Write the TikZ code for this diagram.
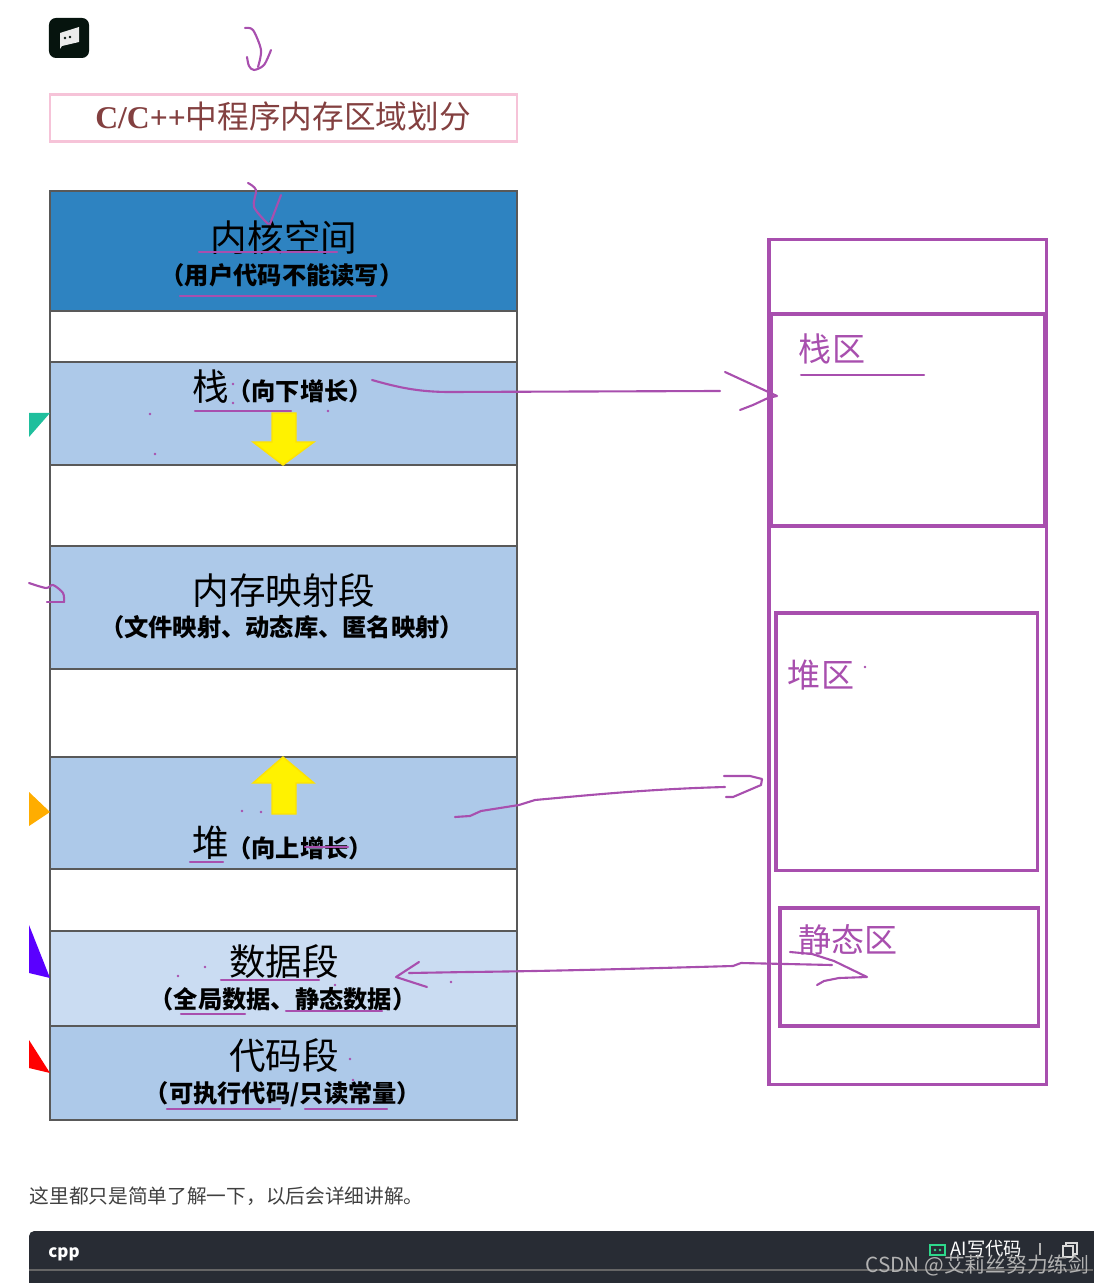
\documentclass[tikz,border=0pt]{standalone}
\usepackage{fontspec}
\newfontfamily\cjk{Noto Sans CJK SC}
\newfontfamily\latinserif{Liberation Serif}
\definecolor{ink}{HTML}{A84FAE}
\definecolor{kernelblue}{HTML}{2E83C1}
\definecolor{segblue}{HTML}{ADC9E9}
\definecolor{datablue}{HTML}{CADCF2}
\definecolor{barcolor}{HTML}{282C34}
\definecolor{logodark}{HTML}{06140E}
\definecolor{aigreen}{HTML}{2ED88B}
\definecolor{titlepink}{HTML}{F6C3D8}
\definecolor{markteal}{HTML}{1FBF9D}
\definecolor{markorange}{HTML}{FFAD00}
\definecolor{markblue}{HTML}{5A00FF}
\begin{document}
\begin{tikzpicture}[x=0.01cm,y=-0.01cm]
        \tikzstyle{seg}=[draw=black!65, line width=0.55pt, minimum width=4.67cm, inner sep=0pt]
        \tikzstyle{zone}=[draw=ink, line width=0.9pt, inner sep=0pt]
        \tikzstyle{bigname}=[inner sep=0pt, font=\cjk\fontsize{10.4}{12}\selectfont]
        \tikzstyle{smallname}=[inner sep=0pt, font=\cjk\bfseries\fontsize{6.9}{8}\selectfont]
        \tikzstyle{zonename}=[inner sep=0pt, text=ink, font=\cjk\fontsize{9.4}{11}\selectfont]
        \tikzstyle{inkline}=[draw=ink, line width=0.6pt, line cap=round, line join=round]
        \tikzstyle{growarrow}=[fill=yellow, draw=yellow!85!orange, line width=0.4pt]
        \useasboundingbox (0,0) rectangle (1093,1283);
        % logo and title
        \node[fill=logodark, rounded corners=2pt, minimum width=0.40cm, minimum height=0.40cm, inner sep=0pt] (logo) at (69,38) {};
        \fill[black!8] (60,33) -- (79,27) -- (79,42) -- (62,46) -- (60,49) -- cycle;
        \fill[logodark] (65,38) circle (0.4pt) (70,37) circle (0.4pt);
        \node[draw=titlepink, line width=0.6pt, minimum width=4.67cm, minimum height=0.47cm, inner sep=0pt] (titlebox) at (283.5,118) {};
        \node[inner sep=0pt, text=red!35!black!75, font=\cjk\fontsize{9}{10}\selectfont] (title) at (283,116) {{\latinserif\bfseries C/C++}中程序内存区域划分};
        % left column
        \node[seg, fill=kernelblue, minimum height=1.20cm] (kernel) at (283.5,251) {};
        \node[seg, minimum height=0.51cm] (gapa) at (283.5,336.5) {};
        \node[seg, fill=segblue, minimum height=1.03cm] (stack) at (283.5,413.5) {};
        \node[seg, minimum height=0.81cm] (gapb) at (283.5,505.5) {};
        \node[seg, fill=segblue, minimum height=1.23cm] (mmap) at (283.5,607.5) {};
        \node[seg, minimum height=0.88cm] (gapc) at (283.5,713) {};
        \node[seg, fill=segblue, minimum height=1.12cm] (heap) at (283.5,813) {};
        \node[seg, minimum height=0.62cm] (gapd) at (283.5,900) {};
        \node[seg, fill=datablue, minimum height=0.95cm] (data) at (283.5,978.5) {};
        \node[seg, fill=segblue, minimum height=0.94cm] (code) at (283.5,1073) {};
        \node[bigname] (kernelname) at (284,238) {内核空间};
        \node[smallname] (kernelnote) at (282,275) {（用户代码不能读写）};
        \node[bigname] (stackname) at (211,387) {栈};
        \node[smallname] (stacknote) at (300,391) {（向下增长）};
        \node[bigname] (mmapname) at (284,591) {内存映射段};
        \node[smallname] (mmapnote) at (282,627) {（文件映射、动态库、匿名映射）};
        \node[bigname] (heapname) at (211,843) {堆};
        \node[smallname] (heapnote) at (300,848) {（向上增长）};
        \node[bigname] (dataname) at (284,962) {数据段};
        \node[smallname] (datanote) at (283,999) {（全局数据、静态数据）};
        \node[bigname] (codename) at (284,1056) {代码段};
        \node[smallname] (codenote) at (283,1094) {（可执行代码/只读常量）};
        % yellow arrows
        \draw[growarrow] (272,413) -- (296,413) -- (296,442) -- (314,442) -- (283,465) -- (253,442) -- (272,442) -- cycle;
        \draw[growarrow] (283,757) -- (314,783) -- (296,783) -- (296,814) -- (272,814) -- (272,783) -- (253,783) -- cycle;
        % right column
        \node[zone, minimum width=2.77cm, minimum height=8.44cm] (outer) at (907.5,662) {};
        \node[zone, minimum width=2.73cm, minimum height=2.12cm] (stackzone) at (907.5,420) {};
        \node[zone, minimum width=2.61cm, minimum height=2.57cm] (heapzone) at (906.5,741.5) {};
        \node[zone, minimum width=2.58cm, minimum height=1.18cm] (staticzone) at (909,967) {};
        \node[zonename] (stacklabel) at (832,349) {栈区};
        \node[zonename] (heaplabel) at (821,675) {堆区};
        \node[zonename] (staticlabel) at (848,940) {静态区};
        % side marks
        \fill[markteal] (29,413) -- (50,413) -- (29,437) -- cycle;
        \fill[markorange] (29,792) -- (50,812) -- (29,826) -- cycle;
        \fill[markblue] (29,925) -- (50,978) -- (29,973) -- cycle;
        \fill[red] (29,1040) -- (50,1073) -- (29,1068) -- cycle;
        % connectors
        \coordinate (stackfrom) at (372,380);
        \coordinate (stackto) at (720,391);
        \coordinate (heapfrom) at (455,817);
        \coordinate (heapto) at (725,787);
        \coordinate (staticfrom) at (409,973);
        \coordinate (staticto) at (832,965);
        \draw[inkline] (stackfrom) .. controls (400,388) and (420,392) .. (450,392) -- (stackto);
        \draw[inkline] (725,372) -- (777,396) -- (768,398) -- (753,405) -- (740,410);
        \draw[inkline] (heapfrom) -- (470,816) -- (481,811) -- (519,805) -- (535,800) .. controls (590,795) and (650,789) .. (heapto);
        \draw[inkline] (724,776) -- (750,776) -- (762,779) -- (761,785) -- (733,797) -- (726,797);
        \draw[inkline] (staticfrom) -- (468,972) .. controls (560,971) and (660,968) .. (733,966) -- (741,963) -- (staticto);
        \draw[inkline] (419,962) -- (396,977) -- (427,987);
        \draw[inkline] (790,952) -- (812,954) -- (834,961) -- (867,977) -- (839,978) -- (824,981) -- (817,985);
        % pen marks
        \draw[inkline] plot[smooth] coordinates {(245,28) (253,30) (261,50) (258,67)};
        \draw[inkline] plot[smooth] coordinates {(247,57) (249,66) (254,70) (264,65) (271,50)};
        \draw[inkline] plot[smooth] coordinates {(248,183) (256,190) (254,207) (268,224)};
        \draw[inkline] (281,195) -- (270,224);
        \draw[inkline] plot[smooth] coordinates {(29,583) (46,588) (53,585) (63,593) (64,602)};
        \draw[inkline] (64,602) -- (47,602);
        \foreach \ax/\bx/\uy in {199/337/252, 180/376/296, 195/291/411, 190/223/862, 305/348/847, 221/319/980, 181/245/1014, 286/382/1011, 167/280/1109, 305/387/1109, 801/924/375}
            \draw[inkline] (\ax,\uy) -- (\bx,\uy);
        \foreach \dx/\dy in {150/414, 155/454, 233/384, 233/403, 328/411, 242/811, 261/812, 178/976, 205/967, 451/982, 335/985, 350/1059, 353/1080, 865/667}
            \fill[ink] (\dx,\dy) circle (0.4pt);
        % text and code bar below
        \node[anchor=west, inner sep=0pt, text=black!75, font=\cjk\fontsize{5.6}{7}\selectfont] (remark) at (29,1196) {这里都只是简单了解一下，以后会详细讲解。};
        \fill[barcolor, rounded corners=1.5pt] (29,1290) -- (29,1231) -- (1100,1231) -- (1100,1290) -- cycle;
        \draw[black!60, line width=0.3pt] (29,1270) -- (1093,1270);
        \node[text=white, inner sep=0pt, font=\cjk\bfseries\fontsize{4.8}{6}\selectfont] (lang) at (64,1254) {cpp};
        \draw[aigreen, fill=barcolor, line width=0.7pt] (930,1245) rectangle (945,1255);
        \fill[aigreen] (935,1250) circle (0.4pt) (940,1250) circle (0.4pt);
        \node[anchor=west, text=white, inner sep=0pt, font=\cjk\fontsize{5.2}{7}\selectfont] (aicode) at (950,1249) {AI写代码};
        \draw[black!30, line width=0.3pt] (1040,1243) -- (1040,1255);
        \draw[white!85!black, line width=0.4pt] (1063,1246) rectangle (1073,1257);
        \draw[white!85!black, line width=0.4pt] (1066,1246) -- (1066,1243) -- (1077,1243) -- (1077,1254) -- (1073,1254);
        \node[anchor=east, text=white!70!black, inner sep=0pt, font=\cjk\fontsize{5.9}{7}\selectfont] (mark) at (1090,1265) {CSDN @艾莉丝努力练剑};
    \end{tikzpicture}
\end{document}
